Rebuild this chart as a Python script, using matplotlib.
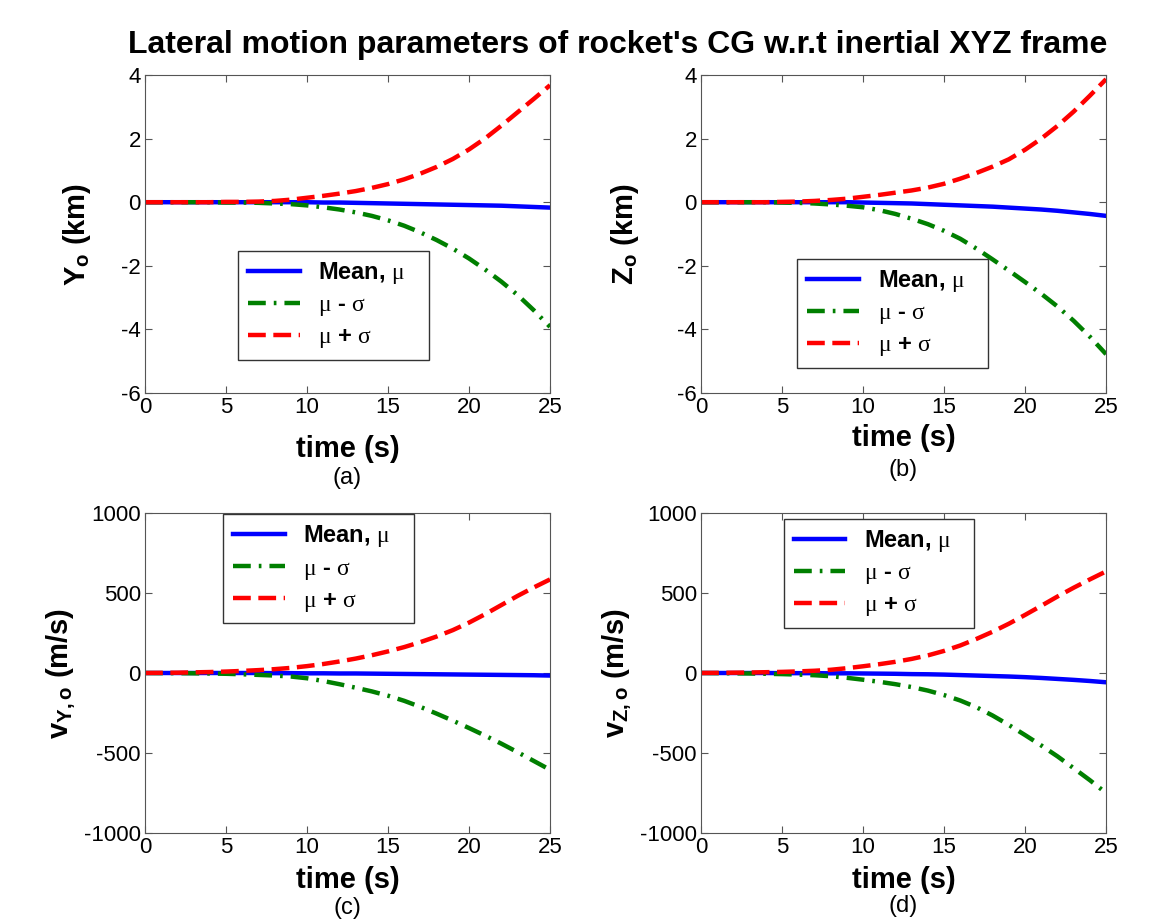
import matplotlib
matplotlib.use("Agg")
import matplotlib.pyplot as plt

plt.rcParams['font.family'] = ['Liberation Sans', 'DejaVu Sans']
plt.rcParams['axes.unicode_minus'] = False
plt.rcParams['mathtext.fontset'] = 'custom'
plt.rcParams['mathtext.rm'] = 'Liberation Serif'
plt.rcParams['mathtext.bf'] = 'Liberation Sans:bold'

# 时间 (s)
t = list(range(0, 26))

# (a) Y_o (km)
ya_mean = [0, 0, 0, 0, 0, 0, 0, 0, 0, 0, 0, -0.01, -0.01, -0.02, -0.03, -0.04,
           -0.05, -0.06, -0.07, -0.08, -0.09, -0.10, -0.11, -0.13, -0.15, -0.17]
ya_minus = [0, 0, 0, 0, 0, -0.01, -0.01, -0.02, -0.04, -0.06, -0.10, -0.16, -0.23,
            -0.32, -0.43, -0.57, -0.74, -0.95, -1.19, -1.46, -1.77, -2.12, -2.50,
            -2.92, -3.40, -3.92]
ya_plus = [0, 0, 0, 0, 0, 0.01, 0.01, 0.02, 0.04, 0.08, 0.14, 0.20, 0.27, 0.35,
           0.45, 0.57, 0.72, 0.90, 1.11, 1.36, 1.66, 2.01, 2.41, 2.83, 3.25, 3.68]

# (b) Z_o (km)
zb_mean = [0, 0, 0, 0, 0, 0, 0, 0, 0, 0, -0.01, -0.02, -0.03, -0.04, -0.06, -0.08,
           -0.10, -0.12, -0.14, -0.17, -0.20, -0.23, -0.27, -0.32, -0.37, -0.43]
zb_minus = [0, 0, 0, 0, 0, -0.01, -0.02, -0.04, -0.07, -0.11, -0.16, -0.25, -0.37,
            -0.52, -0.69, -0.90, -1.15, -1.46, -1.80, -2.15, -2.51, -2.88, -3.28,
            -3.73, -4.23, -4.78]
zb_plus = [0, 0, 0, 0, 0, 0.01, 0.02, 0.04, 0.07, 0.11, 0.17, 0.23, 0.30, 0.37,
           0.46, 0.58, 0.74, 0.92, 1.12, 1.35, 1.65, 2.00, 2.40, 2.85, 3.35, 3.87]

# (c) v_Y,o (m/s)
vc_mean = [0, 0, 0, 0, 0, 0, 0, 0, -1, -1, -2, -2, -3, -3, -4, -5, -6, -7, -8, -9,
           -10, -11, -12, -13, -14, -16]
vc_minus = [0, -1, -1, -2, -3, -5, -8, -12, -16, -22, -33, -50, -70, -92, -115,
            -142, -174, -212, -254, -298, -344, -392, -442, -495, -550, -605]
vc_plus = [0, 1, 2, 4, 6, 9, 13, 18, 24, 32, 43, 56, 72, 90, 111, 135, 162, 193,
           228, 268, 315, 368, 425, 482, 535, 585]

# (d) v_Z,o (m/s)
vd_mean = [0, 0, 0, 0, 0, -1, -1, -1, -2, -2, -3, -4, -5, -7, -8, -10, -13, -16,
           -19, -22, -26, -31, -37, -43, -50, -58]
vd_minus = [0, -1, -2, -3, -5, -7, -10, -14, -20, -30, -42, -55, -70, -88, -110,
            -138, -172, -214, -266, -325, -388, -453, -521, -595, -670, -750]
vd_plus = [0, 1, 2, 3, 5, 7, 10, 14, 20, 30, 42, 55, 70, 88, 110, 138, 172, 213,
           258, 308, 363, 420, 478, 533, 585, 635]

xticks = [0, 5, 10, 15, 20, 25]
km_ticks = [-6, -4, -2, 0, 2, 4]
ms_ticks = [-1000, -500, 0, 500, 1000]

# rect, series, ylabel, yticks, tag, legend box, xlabel pad, ylabel pad, tag y
panels = [
    ([0.1261, 0.5747, 0.3522, 0.3441], ya_mean, ya_minus, ya_plus,
     r'$\mathbf{Y_o}$ (km)', km_ticks, '(a)', (0.23, 0.104, 0.47, 0.314), 12, 20, -0.268),
    ([0.6096, 0.5747, 0.3522, 0.3441], zb_mean, zb_minus, zb_plus,
     r'$\mathbf{Z_o}$ (km)', km_ticks, '(b)', (0.238, 0.079, 0.47, 0.314), 4, 26, -0.242),
    ([0.1261, 0.0985, 0.3522, 0.3463], vc_mean, vc_minus, vc_plus,
     r'$\mathbf{v_{Y,o}}$ (m/s)', ms_ticks, '(c)', (0.193, 0.656, 0.47, 0.314), 6, 4, -0.234),
    ([0.6096, 0.0985, 0.3522, 0.3463], vd_mean, vd_minus, vd_plus,
     r'$\mathbf{v_{Z,o}}$ (m/s)', ms_ticks, '(d)', (0.205, 0.641, 0.47, 0.314), 6, 4, -0.228),
]

fig = plt.figure(figsize=(11.5, 9.24), dpi=100)

for rect, mean, minus, plus, ylab, yticks, tag, lbox, xpad, ypad, tag_y in panels:
    ax = fig.add_axes(rect)
    ax.plot(t, mean, color='#0000ff', lw=3.2, label=r'Mean, $\mathrm{\mu}$')
    ax.plot(t, minus, color='#007f00', lw=3.2, linestyle=(0, (4, 1.8, 0.6, 1.8)),
            label=r'$\mathrm{\mu}$ - $\mathrm{\sigma}$')
    ax.plot(t, plus, color='#ff0000', lw=3.2, linestyle=(0, (4, 1.7)),
            label=r'$\mathrm{\mu}$ + $\mathrm{\sigma}$')
    ax.set_xlim(0, 25)
    ax.set_ylim(yticks[0], yticks[-1])
    ax.set_xticks(xticks)
    ax.set_yticks(yticks)
    ax.tick_params(direction='in', top=True, right=True, length=5,
                   labelsize=16, color='#555555', pad=3)
    for s in ax.spines.values():
        s.set_color('#555555')
    ax.set_xlabel('time (s)', fontsize=21, fontweight='bold', labelpad=xpad)
    ax.set_ylabel(ylab, fontsize=21, fontweight='bold', labelpad=ypad)
    ax.text(0.5, tag_y, tag, transform=ax.transAxes, ha='center', va='center',
            fontsize=17)
    ax.legend(loc='lower left', bbox_to_anchor=lbox, mode='expand',
              prop={'size': 17, 'weight': 'bold'}, frameon=True, fancybox=False,
              edgecolor='#333333', framealpha=1, handlelength=2.2,
              handletextpad=0.8, borderaxespad=0, labelspacing=0.3)

fig.suptitle("Lateral motion parameters of rocket's CG w.r.t inertial XYZ frame",
             x=0.537, y=0.968, fontsize=23, fontweight='bold')

fig.savefig('out.png', dpi=100)
